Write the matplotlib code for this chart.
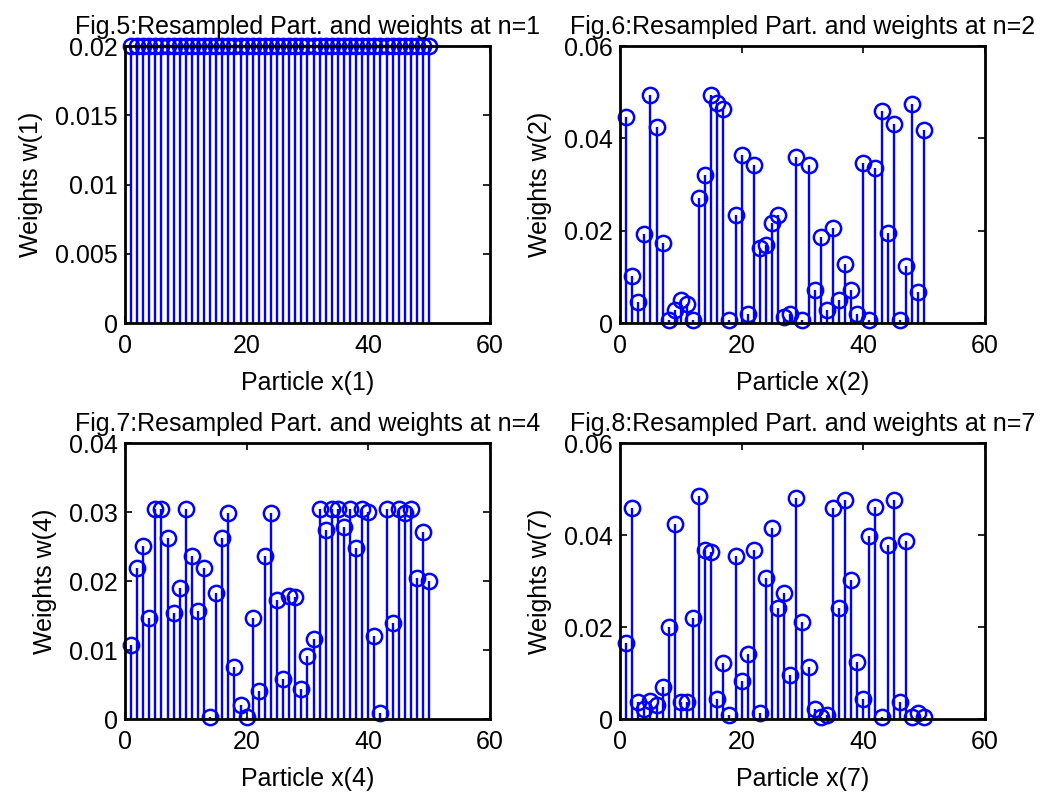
import matplotlib
matplotlib.use("Agg")
import matplotlib.pyplot as plt
from matplotlib.ticker import FuncFormatter

plt.rcParams['font.family'] = ['Liberation Sans', 'DejaVu Sans']

# particle index
particles = list(range(1, 51))

# resampled weights, n=1 (uniform after resampling)
w_n1 = [0.02] * 50

# n=2
w_n2 = [0.0446, 0.0101, 0.0045, 0.0192, 0.0494, 0.0424, 0.0174, 0.0007, 0.0029, 0.0049,
        0.0041, 0.0007, 0.0270, 0.0321, 0.0494, 0.0477, 0.0464, 0.0007, 0.0235, 0.0363,
        0.0019, 0.0342, 0.0162, 0.0170, 0.0217, 0.0235, 0.0013, 0.0019, 0.0360, 0.0006,
        0.0343, 0.0071, 0.0187, 0.0028, 0.0205, 0.0050, 0.0128, 0.0071, 0.0020, 0.0347,
        0.0006, 0.0335, 0.0460, 0.0196, 0.0430, 0.0006, 0.0123, 0.0474, 0.0068, 0.0417]

# n=4
w_n4 = [0.0107, 0.0219, 0.0251, 0.0147, 0.0304, 0.0304, 0.0263, 0.0153, 0.0190, 0.0304,
        0.0237, 0.0157, 0.0219, 0.0003, 0.0183, 0.0263, 0.0298, 0.0075, 0.0021, 0.0003,
        0.0147, 0.0041, 0.0237, 0.0298, 0.0173, 0.0058, 0.0179, 0.0177, 0.0043, 0.0092,
        0.0116, 0.0304, 0.0274, 0.0304, 0.0304, 0.0278, 0.0304, 0.0248, 0.0304, 0.0300,
        0.0121, 0.0009, 0.0304, 0.0139, 0.0304, 0.0298, 0.0304, 0.0205, 0.0271, 0.0200]

# n=7
w_n7 = [0.0165, 0.0459, 0.0038, 0.0022, 0.0040, 0.0030, 0.0070, 0.0200, 0.0425, 0.0036,
        0.0036, 0.0220, 0.0485, 0.0368, 0.0363, 0.0043, 0.0122, 0.0008, 0.0354, 0.0082,
        0.0142, 0.0368, 0.0013, 0.0307, 0.0416, 0.0242, 0.0274, 0.0096, 0.0481, 0.0212,
        0.0113, 0.0021, 0.0005, 0.0009, 0.0459, 0.0242, 0.0477, 0.0303, 0.0125, 0.0043,
        0.0398, 0.0460, 0.0005, 0.0378, 0.0477, 0.0036, 0.0388, 0.0005, 0.0014, 0.0005]

steps = [1, 2, 4, 7]
fig_nums = [5, 6, 7, 8]
weights = [w_n1, w_n2, w_n4, w_n7]
ylims = [0.02, 0.06, 0.04, 0.06]
yticks = [[0, 0.005, 0.01, 0.015, 0.02],
          [0, 0.02, 0.04, 0.06],
          [0, 0.01, 0.02, 0.03, 0.04],
          [0, 0.02, 0.04, 0.06]]

fig = plt.figure(figsize=(10.53, 7.96), dpi=100)
positions = [[0.1187, 0.5942, 0.3466, 0.348],
             [0.5888, 0.5942, 0.3466, 0.348],
             [0.1187, 0.0967, 0.3466, 0.3467],
             [0.5888, 0.0967, 0.3466, 0.3467]]

fmt = FuncFormatter(lambda v, p: ('%g' % v))
fs = 18

for i in range(4):
    ax = fig.add_axes(positions[i])
    w = weights[i]
    ax.vlines(particles, 0, w, color='#0000ff', lw=1.7)
    ax.plot(particles, w, 'o', mfc='none', mec='#0000ff', ms=11, mew=1.8, clip_on=False)
    ax.set_xlim(0, 60)
    ax.set_ylim(0, ylims[i])
    ax.set_xticks([0, 20, 40, 60])
    ax.set_yticks(yticks[i])
    ax.yaxis.set_major_formatter(fmt)
    ax.tick_params(direction='in', top=True, right=True, labelsize=fs, length=5, width=1.2)
    ax.tick_params(axis='x', pad=8)
    ax.tick_params(axis='y', pad=5)
    for s in ax.spines.values():
        s.set_linewidth(2)
    ax.set_xlabel('Particle x(%d)' % steps[i], fontsize=fs, labelpad=9)
    ax.set_ylabel('Weights w(%d)' % steps[i], fontsize=fs, labelpad=9)
    ax.set_title('Fig.%d:Resampled Part. and weights at n=%d' % (fig_nums[i], steps[i]),
                 fontsize=18, pad=9)

fig.savefig('out.png', dpi=100)
